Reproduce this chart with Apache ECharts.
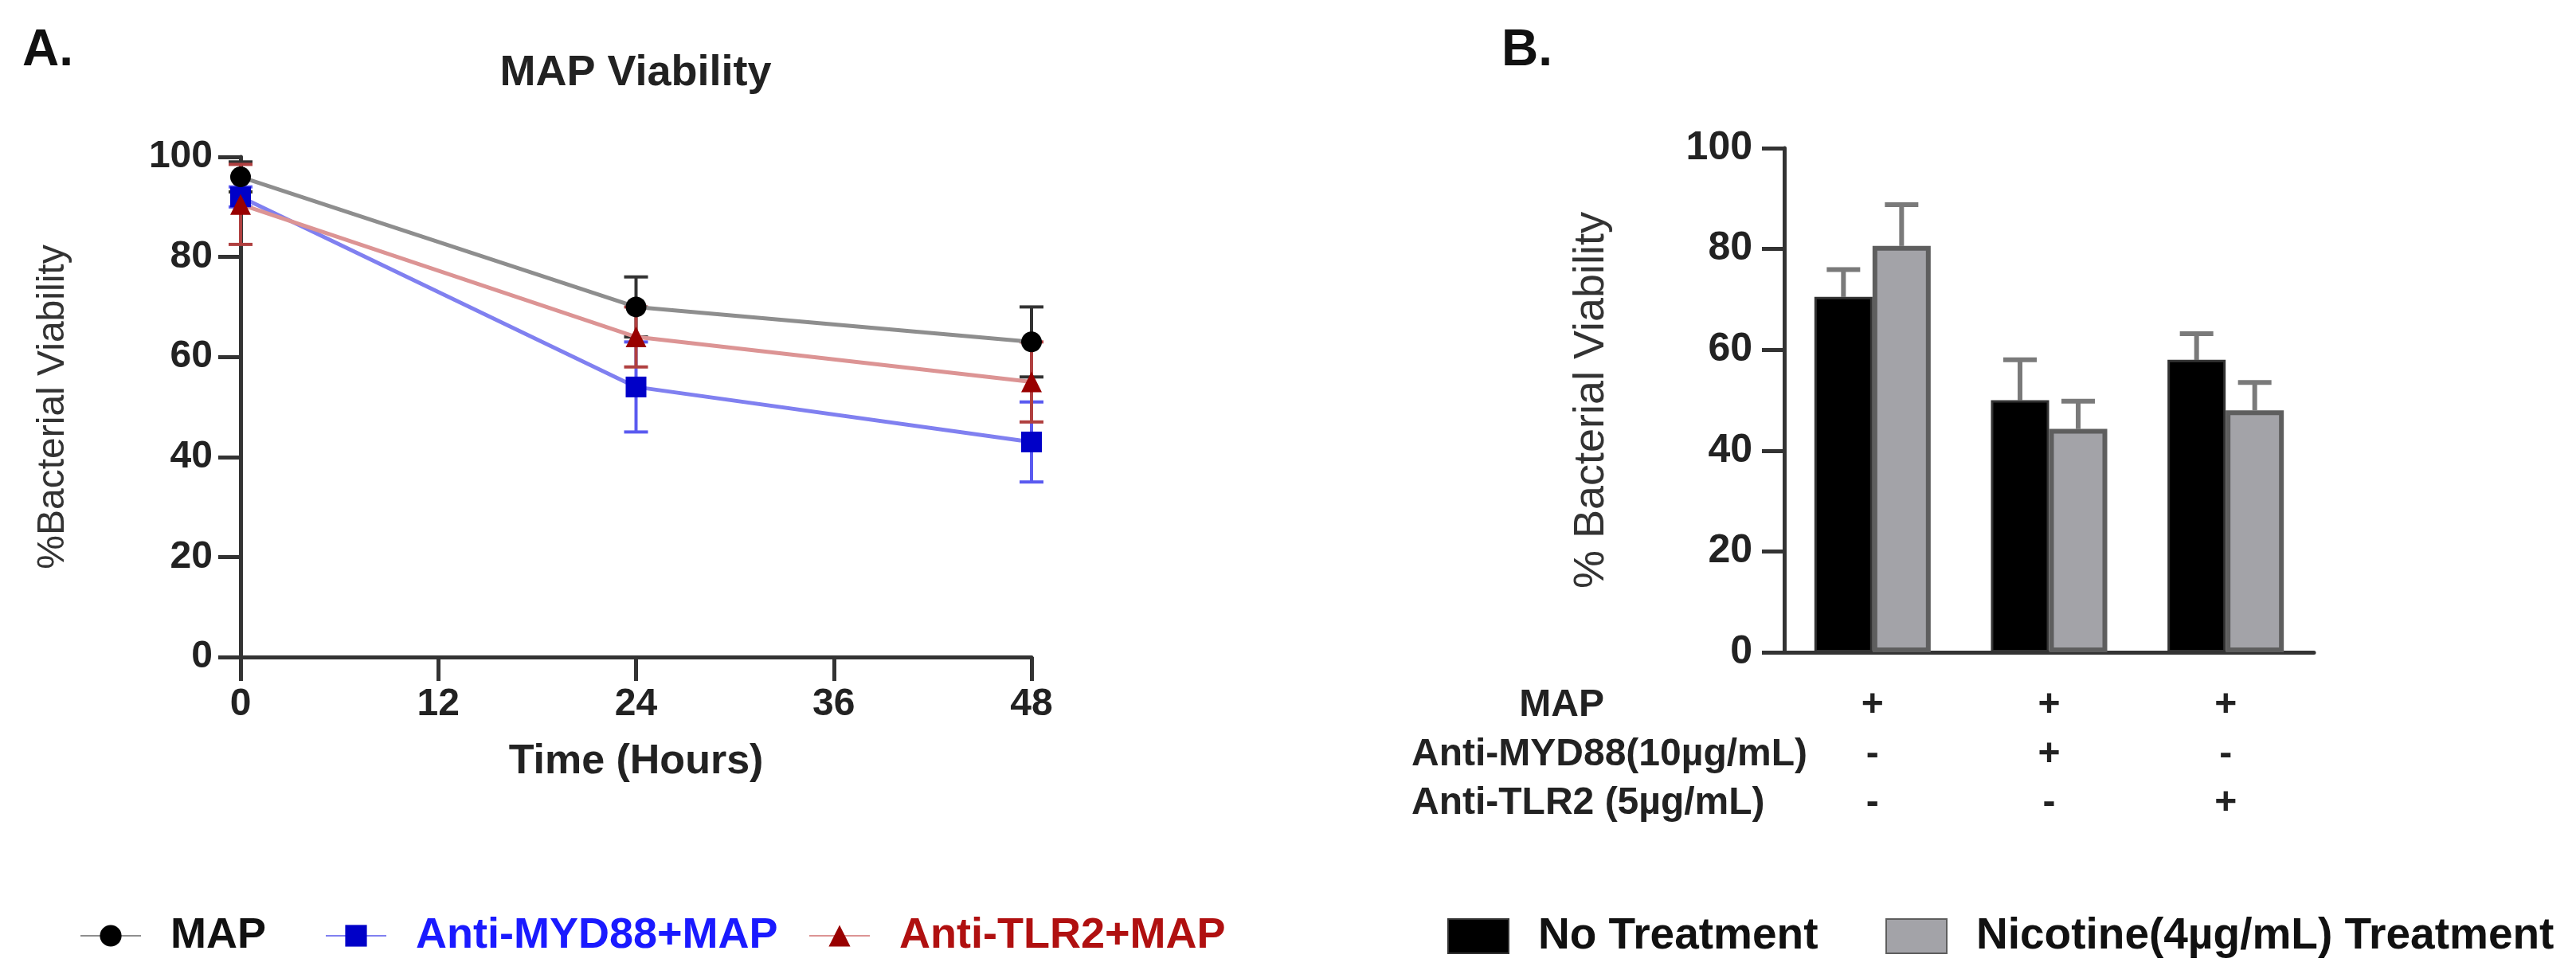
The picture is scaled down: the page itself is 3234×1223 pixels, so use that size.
<!DOCTYPE html>
<html>
<head>
<meta charset="utf-8">
<script src="https://cdn.jsdelivr.net/npm/echarts@6/dist/echarts.min.js"></script>
<style>
  html, body { margin: 0; padding: 0; background: #fff; }
  #chart { width: 3234px; height: 1223px; }
</style>
</head>
<body>
<div id="chart"></div>
<script>
// panel A: viability over time
var hours = [0, 24, 48];
var mapMean = [96, 70, 63];
var mapErr = [3, 6, 7];
var myd88Mean = [92, 54, 43];
var myd88Err = [2, 9, 8];
var tlr2Mean = [90.5, 64, 55];
var tlr2Err = [8, 6, 8];

// panel B: bars
var groups = ['MAP', 'MAP+Anti-MYD88', 'MAP+Anti-TLR2'];
var noTreat = [70.5, 50, 58];
var noTreatErr = [5.4, 8, 5.2];
var nicotine = [80.6, 44.3, 48];
var nicotineErr = [8.2, 5.5, 5.5];
var rowNames = ['MAP', 'Anti-MYD88(10µg/mL)', 'Anti-TLR2 (5µg/mL)'];
var rowSigns = [['+', '+', '+'], ['-', '+', '-'], ['-', '-', '+']];

var FONT = '"Liberation Sans", Arial, sans-serif';
var BAR_W = 73;

var chart = echarts.init(document.getElementById('chart'));

function pairs(xs, ys) {
  return xs.map(function (x, i) { return [x, ys[i]]; });
}
function errData(xs, mean, err) {
  return xs.map(function (x, i) { return [x, mean[i] - err[i], mean[i] + err[i]]; });
}

// symmetric error bars for the line plot
function errA(color) {
  return function (params, api) {
    var x = api.value(0);
    var lo = api.coord([x, api.value(1)]);
    var hi = api.coord([x, api.value(2)]);
    var w = 15;
    var st = { stroke: color, lineWidth: 4 };
    return {
      type: 'group',
      children: [
        { type: 'line', shape: { x1: lo[0], y1: lo[1], x2: hi[0], y2: hi[1] }, style: st },
        { type: 'line', shape: { x1: hi[0] - w, y1: hi[1], x2: hi[0] + w, y2: hi[1] }, style: st },
        { type: 'line', shape: { x1: lo[0] - w, y1: lo[1], x2: lo[0] + w, y2: lo[1] }, style: st }
      ]
    };
  };
}

// upward-only error bars for the bars, shifted to the bar centre
function errB(shift) {
  return function (params, api) {
    var top = api.coord([api.value(0), api.value(1)]);
    var hi = api.coord([api.value(0), api.value(2)]);
    var x = top[0] + shift;
    var w = 21;
    var st = { stroke: '#7a7a7a', lineWidth: 6 };
    return {
      type: 'group',
      children: [
        { type: 'line', shape: { x1: x, y1: top[1], x2: x, y2: hi[1] }, style: st },
        { type: 'line', shape: { x1: x - w, y1: hi[1], x2: x + w, y2: hi[1] }, style: st }
      ]
    };
  };
}

var axisLine = { lineStyle: { color: '#333', width: 5 } };
var tickLab = { color: '#222', fontSize: 48, fontWeight: 'bold', fontFamily: FONT };

// extra x axes that carry the +/- rows under panel B
var rowOffsets = [67, 129, 190];
var rowAxes = rowNames.map(function (name, r) {
  var anti = r > 0;
  return {
    type: 'category',
    gridIndex: 1,
    data: rowSigns[r],
    position: 'bottom',
    offset: rowOffsets[r],
    axisLine: { show: false },
    axisTick: { show: false },
    axisLabel: { margin: 0, verticalAlign: 'middle', color: '#222', fontSize: 48, fontWeight: 'bold', fontFamily: FONT },
    name: name,
    nameLocation: 'start',
    nameGap: anti ? 468 : 226,
    nameTextStyle: { align: anti ? 'left' : 'right', verticalAlign: 'middle', color: '#222', fontSize: 48, fontWeight: 'bold', fontFamily: FONT }
  };
});

var legendText = { fontSize: 54, fontWeight: 'bold', fontFamily: FONT, padding: [0, 0, 0, 32] };
var legendA = { top: 1143, itemWidth: 76, itemHeight: 34 };
var legendB = { top: 1143, itemWidth: 76, itemHeight: 43, icon: 'rect' };

var option = {
  animation: false,
  backgroundColor: '#fff',
  graphic: [
    { type: 'text', left: 28, top: 32, style: { text: 'A.', fontSize: 64, fontWeight: 'bold', fontFamily: FONT, fill: '#111' } },
    { type: 'text', left: 1885, top: 32, style: { text: 'B.', fontSize: 64, fontWeight: 'bold', fontFamily: FONT, fill: '#111' } },
    { type: 'text', x: 798, y: 65, style: { text: 'MAP Viability', textAlign: 'center', fontSize: 54, fontWeight: 'bold', fontFamily: FONT, fill: '#222' } }
  ],
  legend: [
    Object.assign({ left: 95, data: ['MAP'], textStyle: Object.assign({ color: '#111' }, legendText) }, legendA),
    Object.assign({ left: 403, data: ['Anti-MYD88+MAP'], textStyle: Object.assign({ color: '#1a1aff' }, legendText) }, legendA),
    Object.assign({ left: 1010, data: ['Anti-TLR2+MAP'], textStyle: Object.assign({ color: '#b01010' }, legendText) }, legendA),
    Object.assign({ left: 1812, data: ['No Treatment'], textStyle: Object.assign({ color: '#111' }, legendText, { fontSize: 55 }) }, legendB),
    Object.assign({ left: 2362, data: ['Nicotine(4µg/mL) Treatment'], textStyle: Object.assign({ color: '#111' }, legendText, { fontSize: 55 }) }, legendB)
  ],
  grid: [
    { left: 302, top: 197, width: 993, height: 628 },
    { left: 2240, top: 186, width: 665, height: 633 }
  ],
  xAxis: [
    {
      type: 'value', gridIndex: 0, min: 0, max: 48, interval: 12,
      name: 'Time (Hours)', nameLocation: 'middle', nameGap: 106,
      nameTextStyle: { color: '#222', fontSize: 52, fontWeight: 'bold', fontFamily: FONT },
      axisLine: axisLine,
      axisTick: { length: 30, lineStyle: { color: '#333', width: 5 } },
      axisLabel: Object.assign({ margin: 36 }, tickLab),
      splitLine: { show: false }
    },
    {
      type: 'category', gridIndex: 1, data: groups,
      axisLine: axisLine,
      axisTick: { alignWithLabel: true, length: 28, lineStyle: { color: '#333', width: 5 } },
      axisLabel: { show: false }
    }
  ].concat(rowAxes),
  yAxis: [
    {
      type: 'value', gridIndex: 0, min: 0, max: 100, interval: 20,
      name: '%Bacterial Viability', nameLocation: 'middle', nameGap: 211,
      nameTextStyle: { color: '#333', fontSize: 48, fontFamily: FONT },
      axisLine: { show: true, lineStyle: { color: '#333', width: 5 } },
      axisTick: { show: true, length: 28, lineStyle: { color: '#333', width: 5 } },
      axisLabel: Object.assign({ margin: 35 }, tickLab),
      splitLine: { show: false }
    },
    {
      type: 'value', gridIndex: 1, min: 0, max: 100, interval: 20,
      name: '% Bacterial Viability', nameLocation: 'middle', nameGap: 215,
      nameTextStyle: { color: '#333', fontSize: 54, fontFamily: FONT },
      axisLine: { show: true, lineStyle: { color: '#333', width: 5 } },
      axisTick: { show: true, length: 28, lineStyle: { color: '#333', width: 5 } },
      axisLabel: Object.assign({ margin: 40 }, tickLab, { fontSize: 50 }),
      splitLine: { show: false }
    }
  ],
  series: [
    { type: 'custom', xAxisIndex: 0, yAxisIndex: 0, z: 1, renderItem: errA('#333'), data: errData(hours, mapMean, mapErr) },
    { type: 'custom', xAxisIndex: 0, yAxisIndex: 0, z: 1, renderItem: errA('#5a5af0'), data: errData(hours, myd88Mean, myd88Err) },
    { type: 'custom', xAxisIndex: 0, yAxisIndex: 0, z: 1, renderItem: errA('#b04040'), data: errData(hours, tlr2Mean, tlr2Err) },
    {
      name: 'MAP', type: 'line', xAxisIndex: 0, yAxisIndex: 0, z: 4,
      data: pairs(hours, mapMean), symbol: 'circle', symbolSize: 26,
      itemStyle: { color: '#000' }, lineStyle: { color: '#8e8e8e', width: 5 }
    },
    {
      name: 'Anti-MYD88+MAP', type: 'line', xAxisIndex: 0, yAxisIndex: 0, z: 3,
      data: pairs(hours, myd88Mean), symbol: 'rect', symbolSize: 26,
      itemStyle: { color: '#0000c8' }, lineStyle: { color: '#8080f0', width: 5 }
    },
    {
      name: 'Anti-TLR2+MAP', type: 'line', xAxisIndex: 0, yAxisIndex: 0, z: 3,
      data: pairs(hours, tlr2Mean), symbol: 'triangle', symbolSize: 26,
      itemStyle: { color: '#990000' }, lineStyle: { color: '#dc9494', width: 5 }
    },
    {
      name: 'No Treatment', type: 'bar', xAxisIndex: 1, yAxisIndex: 1,
      data: noTreat, barWidth: BAR_W, barGap: '0%',
      itemStyle: { color: '#000', borderColor: '#333', borderWidth: 3 }
    },
    {
      name: 'Nicotine(4µg/mL) Treatment', type: 'bar', xAxisIndex: 1, yAxisIndex: 1,
      data: nicotine, barWidth: BAR_W, barGap: '0%',
      itemStyle: { color: '#a3a3a8', borderColor: '#5e5e5e', borderWidth: 6 }
    },
    { type: 'custom', xAxisIndex: 1, yAxisIndex: 1, z: 1, renderItem: errB(-BAR_W / 2), data: groups.map(function (g, i) { return [i, noTreat[i], noTreat[i] + noTreatErr[i]]; }) },
    { type: 'custom', xAxisIndex: 1, yAxisIndex: 1, z: 1, renderItem: errB(BAR_W / 2), data: groups.map(function (g, i) { return [i, nicotine[i], nicotine[i] + nicotineErr[i]]; }) }
  ]
};

chart.setOption(option);
window.onresize = chart.resize;
</script>
</body>
</html>
